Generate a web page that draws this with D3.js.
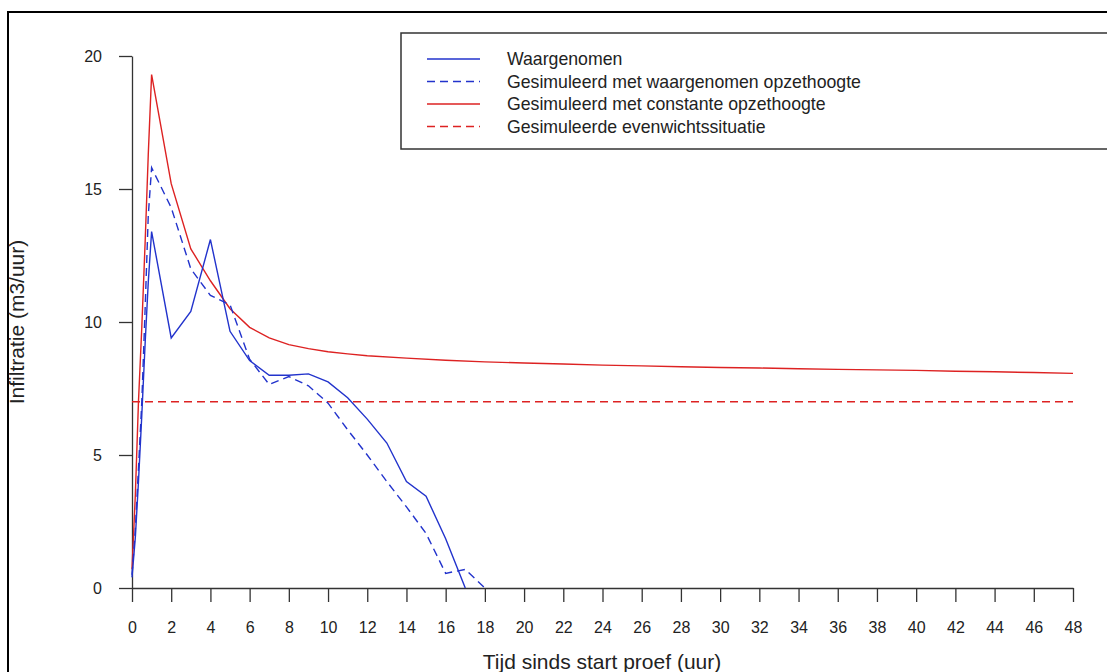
<!DOCTYPE html>
<html>
<head>
<meta charset="utf-8">
<script src="https://cdn.jsdelivr.net/npm/d3@7"></script>
<style>
  html, body { margin: 0; padding: 0; background: #fff; }
  svg { display: block; }
  text { font-family: "Liberation Sans", Arial, sans-serif; fill: #222; }
</style>
</head>
<body>
<svg id="chart" width="1107" height="672"></svg>
<script>
// data
var xTicks = [0, 2, 4, 6, 8, 10, 12, 14, 16, 18, 20, 22, 24, 26, 28, 30, 32, 34, 36, 38, 40, 42, 44, 46, 48];
var yTicks = [0, 5, 10, 15, 20];

var obsTime = [0, 0.17, 0.33, 0.5, 0.67, 0.83, 1, 2, 3, 4, 5, 6, 7, 8, 9, 10, 11, 12, 13, 14, 15, 16, 17];
var obsVal  = [0.4, 1.9, 4.0, 6.5, 9.2, 11.5, 13.4, 9.4, 10.4, 13.1, 9.65, 8.55, 8.0, 8.0, 8.05, 7.75, 7.15, 6.35, 5.45, 4.0, 3.45, 1.85, 0];

var simObsTime = [0, 0.17, 0.33, 0.5, 0.67, 0.83, 1, 2, 3, 4, 5, 6, 7, 8, 9, 10, 11, 12, 13, 14, 15, 16, 17, 18];
var simObsVal  = [0.5, 2.2, 4.5, 7.0, 10.5, 14.0, 15.8, 14.3, 12.0, 11.0, 10.65, 8.6, 7.65, 7.95, 7.6, 6.95, 5.95, 5.0, 4.0, 3.05, 2.05, 0.55, 0.7, 0];

var simConstTime = [0, 0.17, 0.33, 0.5, 0.67, 0.83, 1, 2, 3, 4, 5, 6, 7, 8, 9, 10, 11, 12, 14, 16, 18, 20, 22, 24, 26, 28, 30, 32, 34, 36, 38, 40, 42, 44, 46, 48];
var simConstVal  = [0.7, 3.5, 7.0, 9.8, 13.0, 16.3, 19.3, 15.2, 12.75, 11.55, 10.5, 9.8, 9.4, 9.15, 9.0, 8.88, 8.8, 8.73, 8.64, 8.56, 8.5, 8.46, 8.42, 8.38, 8.35, 8.32, 8.29, 8.27, 8.24, 8.22, 8.2, 8.18, 8.15, 8.13, 8.1, 8.07];

var eqTime = [0, 48];
var eqVal  = [7.0, 7.0];

var legendLabels = ["Waargenomen", "Gesimuleerd met waargenomen opzethoogte", "Gesimuleerd met constante opzethoogte", "Gesimuleerde evenwichtssituatie"];

var blue = "#2233cc", red = "#dd2222";

var svg = d3.select("#chart");

// outer frame
svg.append("rect")
    .attr("x", 8).attr("y", 12)
    .attr("width", 1200).attr("height", 700)
    .style("fill", "none").style("stroke", "#000").style("stroke-width", 2);

var x = d3.scaleLinear().domain([0, 48]).range([132, 1073]),
    y = d3.scaleLinear().domain([0, 20]).range([588, 56]);

var xAxis = svg.append("g")
    .attr("transform", "translate(0,588)")
    .call(d3.axisBottom(x).tickValues(xTicks).tickSize(14).tickSizeOuter(0).tickPadding(20));

var yAxis = svg.append("g")
    .attr("transform", "translate(132,0)")
    .call(d3.axisLeft(y).tickValues(yTicks).tickSize(13).tickSizeOuter(0).tickPadding(17));

[xAxis, yAxis].forEach(function(a) {
    a.selectAll("path, line").style("stroke", "#333").style("stroke-width", 1.3);
    a.selectAll("text").style("font-size", "16px").style("fill", "#222")
        .style("font-family", "'Liberation Sans', Arial, sans-serif");
});

// axis titles
svg.append("text")
    .attr("x", 602).attr("y", 669)
    .attr("text-anchor", "middle")
    .style("font-size", "21px")
    .text("Tijd sinds start proef (uur)");

svg.append("text")
    .attr("text-anchor", "middle")
    .attr("transform", "translate(24,322)rotate(-90)")
    .style("font-size", "21px")
    .text("Infiltratie (m3/uur)");

var line = d3.line()
    .x(function(d) { return x(d[0]); })
    .y(function(d) { return y(d[1]); });

var series = [
    { t: eqTime, v: eqVal, color: red, dash: "8,5" },
    { t: simConstTime, v: simConstVal, color: red, dash: null },
    { t: simObsTime, v: simObsVal, color: blue, dash: "8,5" },
    { t: obsTime, v: obsVal, color: blue, dash: null }
];

series.forEach(function(s) {
    svg.append("path")
        .datum(d3.zip(s.t, s.v))
        .attr("d", line)
        .style("fill", "none")
        .style("stroke", s.color)
        .style("stroke-width", 1.4)
        .style("stroke-dasharray", s.dash);
});

// legend
var legendStyle = [
    { color: blue, dash: null },
    { color: blue, dash: "8,5" },
    { color: red, dash: null },
    { color: red, dash: "8,5" }
];

svg.append("rect")
    .attr("x", 401).attr("y", 33)
    .attr("width", 800).attr("height", 116)
    .style("fill", "#fff").style("stroke", "#333").style("stroke-width", 1.5);

var lg = svg.append("g").selectAll("g")
    .data(legendLabels)
    .enter().append("g")
    .attr("transform", function(d, i) { return "translate(0," + (59 + i * 22.5) + ")"; });

lg.append("line")
    .attr("x1", 427).attr("x2", 480)
    .style("stroke", function(d, i) { return legendStyle[i].color; })
    .style("stroke-dasharray", function(d, i) { return legendStyle[i].dash; })
    .style("stroke-width", 1.4);

lg.append("text")
    .attr("x", 507).attr("dy", "0.35em")
    .style("font-size", "17.7px")
    .text(function(d) { return d; });
</script>
</body>
</html>
